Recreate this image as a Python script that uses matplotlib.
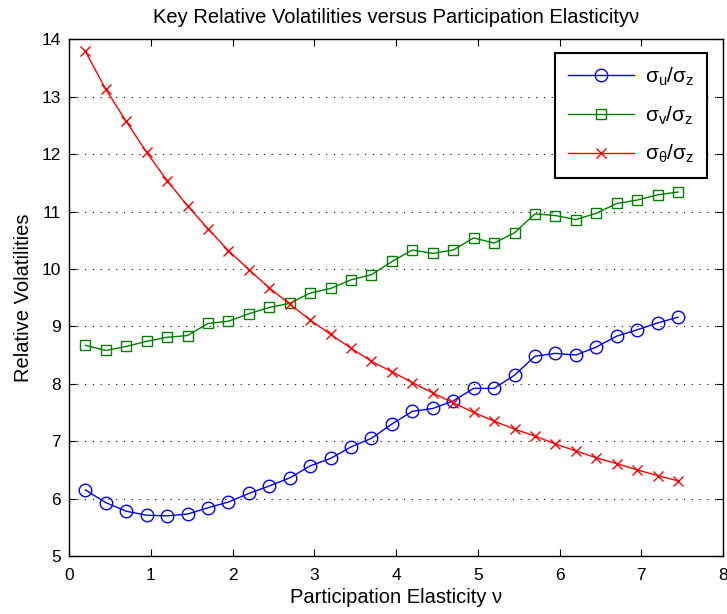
import numpy as np
import matplotlib
matplotlib.use("Agg")
import matplotlib.pyplot as plt

plt.rcParams['font.family'] = ['Liberation Sans', 'DejaVu Sans']
plt.rcParams['mathtext.default'] = 'regular'

elasticity = [0.2, 0.45, 0.7, 0.95, 1.2, 1.45, 1.7, 1.95, 2.2, 2.45,
              2.7, 2.95, 3.2, 3.45, 3.7, 3.95, 4.2, 4.45, 4.7, 4.95,
              5.2, 5.45, 5.7, 5.95, 6.2, 6.45, 6.7, 6.95, 7.2, 7.45]

sigma_u = [6.15, 5.93, 5.78, 5.71, 5.70, 5.73, 5.84, 5.94, 6.09, 6.22,
           6.36, 6.57, 6.70, 6.90, 7.05, 7.30, 7.52, 7.57, 7.70, 7.92,
           7.92, 8.15, 8.48, 8.53, 8.50, 8.64, 8.83, 8.94, 9.06, 9.16]

sigma_v = [8.67, 8.58, 8.65, 8.74, 8.81, 8.84, 9.05, 9.09, 9.22, 9.33,
           9.40, 9.58, 9.66, 9.81, 9.90, 10.13, 10.33, 10.27, 10.33, 10.54,
           10.45, 10.63, 10.96, 10.93, 10.86, 10.97, 11.14, 11.20, 11.29, 11.34]

sigma_theta = [13.79, 13.13, 12.57, 12.03, 11.54, 11.10, 10.70, 10.32, 9.99, 9.67,
               9.39, 9.11, 8.86, 8.62, 8.39, 8.21, 8.02, 7.84, 7.67, 7.50,
               7.35, 7.21, 7.09, 6.95, 6.83, 6.71, 6.61, 6.50, 6.40, 6.31]

labels = ['σ$_u$/σ$_z$', 'σ$_v$/σ$_z$', 'σ$_θ$/σ$_z$']
xticks = [0, 1, 2, 3, 4, 5, 6, 7, 8]
yticks = [5, 6, 7, 8, 9, 10, 11, 12, 13, 14]

fig = plt.figure(figsize=(7.27, 6.14), dpi=100)
ax = fig.add_axes([69/727, 1-556/614, (723-69)/727, (556-39.3)/614])

ax.plot(elasticity, sigma_u, color='blue', marker='o', markersize=9,
        markerfacecolor='none', markeredgewidth=1.0, linewidth=1.0, label=labels[0])
ax.plot(elasticity, sigma_v, color='green', marker='s', markersize=7.5,
        markerfacecolor='none', markeredgewidth=1.0, linewidth=1.0, label=labels[1])
ax.plot(elasticity, sigma_theta, color='red', marker='x', markersize=7.5,
        markeredgewidth=1.0, linewidth=1.0, label=labels[2])

ax.set_xlim(0, 8)
ax.set_ylim(5, 14)
ax.set_xticks(xticks)
ax.set_yticks(yticks)
ax.tick_params(direction='in', top=True, right=True, labelsize=12.5, length=5, width=0.8)
ax.tick_params(axis='x', pad=9)
ax.tick_params(axis='y', pad=6)
ax.yaxis.grid(True, linestyle=(0, (1, 6)), color='black', linewidth=0.8)
ax.set_axisbelow(True)
for s in ax.spines.values():
    s.set_linewidth(1.0)

ax.set_title('Key Relative Volatilities versus Participation Elasticityν', fontsize=14.5, pad=12)
ax.set_xlabel('Participation Elasticity ν', fontsize=14.5, labelpad=3)
ax.set_ylabel('Relative Volatilities', fontsize=14.5, labelpad=6)

leg = ax.legend(loc='upper right', bbox_to_anchor=(0.975, 0.974), fancybox=False,
                edgecolor='black', fontsize=15, handlelength=3.2, borderpad=0.6,
                labelspacing=0.8, handletextpad=0.5, framealpha=1, borderaxespad=0)
leg.get_frame().set_linewidth(1.5)

fig.savefig('out.png', dpi=100)
